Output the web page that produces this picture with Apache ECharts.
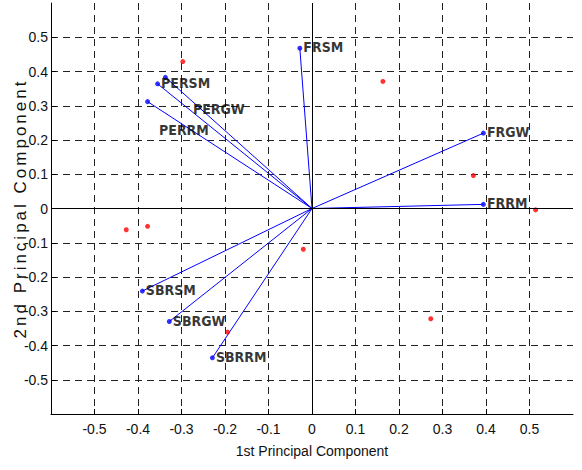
<!DOCTYPE html>
<html>
<head>
<meta charset="utf-8">
<script src="https://cdn.jsdelivr.net/npm/echarts@6/dist/echarts.min.js"></script>
<style>
  html, body { margin: 0; padding: 0; background: #fff; }
  #chart { width: 582px; height: 470px; }
</style>
</head>
<body>
<div id="chart"></div>
<script>
// ---- data ----
const varNames = ['FRSM', 'PERSM', 'PERGW', 'PERRM', 'FRGW', 'FRRM', 'SBRSM', 'SBRGW', 'SBRRM'];
const varX = [-0.028, -0.355, -0.337, -0.378, 0.394, 0.394, -0.390, -0.328, -0.229];
const varY = [0.468, 0.364, 0.383, 0.312, 0.220, 0.012, -0.241, -0.330, -0.436];

const obsX = [-0.297, 0.163, 0.371, 0.514, -0.427, -0.378, -0.020, 0.273, -0.194];
const obsY = [0.429, 0.371, 0.096, -0.004, -0.062, -0.052, -0.119, -0.322, -0.361];

const axisMin = -0.6, axisMax = 0.6, axisStep = 0.1;
const xName = '1st Principal Component';
const yName = '2nd Principal Component';

// ---- styles ----
const sans = "'Liberation Sans', Arial, sans-serif";
const labelOffsets = { PERGW: [24, 32], PERRM: [8, 28] };

const chart = echarts.init(document.getElementById('chart'), null, { renderer: 'svg' });

const gridLine = { show: true, showMinLine: false, showMaxLine: false,
  lineStyle: { color: '#222', width: 1, type: [7, 5] } };

function fmt(v) { return Math.abs(v) < 1e-9 ? '0' : (Math.round(v * 10) / 10).toString(); }

const option = {
  animation: false,
  grid: { left: 51, right: 9, top: 3, bottom: 56, containLabel: false, outerBoundsMode: 'none' },
  xAxis: {
    type: 'value', min: axisMin, max: axisMax, interval: axisStep,
    name: xName, nameLocation: 'middle', nameGap: 30, nameMoveOverlap: false,
    nameTextStyle: { fontFamily: sans, fontSize: 14, color: '#111' },
    axisLine: { onZero: false, lineStyle: { color: '#000', width: 1 } },
    axisTick: { inside: true, length: 5, lineStyle: { color: '#000' } },
    axisLabel: { showMinLabel: false, showMaxLabel: false, margin: 8,
      fontFamily: sans, fontSize: 14, color: '#111', formatter: fmt },
    splitLine: gridLine
  },
  yAxis: {
    type: 'value', min: axisMin, max: axisMax, interval: axisStep,
    name: yName, nameLocation: 'middle', nameGap: 22, nameMoveOverlap: false,
    nameTextStyle: { fontFamily: sans, fontSize: 17, color: '#111' },
    axisLine: { onZero: false, lineStyle: { color: '#000', width: 1 } },
    axisTick: { inside: true, length: 5, lineStyle: { color: '#000' } },
    axisLabel: { showMinLabel: false, showMaxLabel: false, margin: 3,
      fontFamily: sans, fontSize: 14, color: '#111', formatter: fmt },
    splitLine: gridLine
  },
  series: [
    {
      type: 'lines', coordinateSystem: 'cartesian2d', z: 3,
      lineStyle: { color: '#0000ff', width: 1, opacity: 1 },
      data: varNames.map((n, i) => ({ coords: [[0, 0], [varX[i], varY[i]]] })),
      markLine: {
        silent: true, symbol: 'none', label: { show: false },
        lineStyle: { color: '#000', width: 1, type: 'solid' },
        data: [{ xAxis: 0 }, { yAxis: 0 }]
      }
    },
    {
      type: 'scatter', z: 4, symbolSize: 5,
      itemStyle: { color: '#ff0000' },
      data: obsX.map((x, i) => [x, obsY[i]])
    },
    {
      type: 'scatter', z: 5, symbolSize: 5,
      itemStyle: { color: '#0000ff' },
      label: {
        show: true, position: 'right', distance: 1,
        fontFamily: "'DejaVu Sans Condensed', 'DejaVu Sans', sans-serif",
        fontWeight: 'bold', fontSize: 14, color: '#000',
        formatter: p => p.name
      },
      data: varNames.map((n, i) => ({
        name: n, value: [varX[i], varY[i]],
        label: { offset: labelOffsets[n] || [0, -1] }
      }))
    }
  ]
};

chart.setOption(option);

function spaceYName() {
  document.querySelectorAll('#chart svg text').forEach(t => {
    if (t.textContent === yName) t.setAttribute('letter-spacing', '3px');
  });
}
chart.on('finished', spaceYName);
spaceYName();
setTimeout(spaceYName, 50);
</script>
</body>
</html>
